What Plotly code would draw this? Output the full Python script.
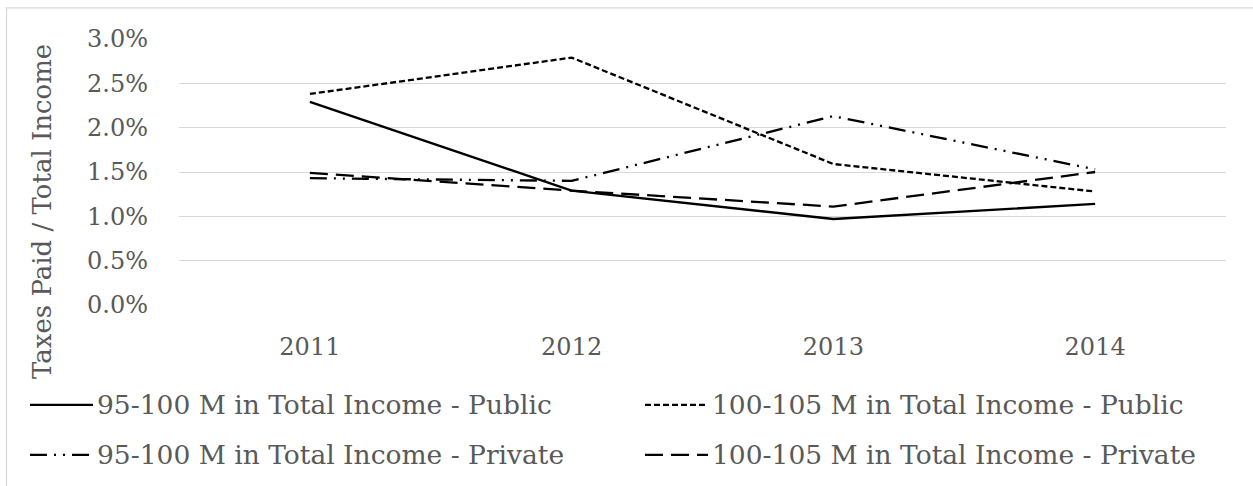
import plotly.graph_objects as go

# Chart data
years = ["2011", "2012", "2013", "2014"]
pub_95_100 = [2.29, 1.29, 0.97, 1.14]
pub_100_105 = [2.38, 2.79, 1.59, 1.28]
priv_95_100 = [1.43, 1.40, 2.13, 1.53]
priv_100_105 = [1.49, 1.29, 1.11, 1.50]
y_ticks = [0.0, 0.5, 1.0, 1.5, 2.0, 2.5, 3.0]
y_tick_text = ["0.0%", "0.5%", "1.0%", "1.5%", "2.0%", "2.5%", "3.0%"]
series_names = [
    "95-100 M in Total Income - Public",
    "100-105 M in Total Income - Public",
    "95-100 M in Total Income - Private",
    "100-105 M in Total Income - Private",
]
series_values = [pub_95_100, pub_100_105, priv_95_100, priv_100_105]
dashes = ["solid", "6px,3px", "17px,7px,2px,7px,2px,7px", "18px,8px"]

W, H = 1253, 486
L, R, T, B = 179, 27, 38.7, 181  # plot area: x 179..1226, y 38.7..305
PW = W - L - R
PH = H - T - B

FONT = "DejaVu Serif"
TXT = "#595959"
GRID = "#d9d9d9"


def px(x):
    return (x - L) / PW


def py(y):
    return (H - B - y) / PH


fig = go.Figure()
for name, vals, dash in zip(series_names, series_values, dashes):
    fig.add_trace(go.Scatter(
        x=years, y=vals, mode="lines", name=name,
        line=dict(color="black", width=2.3, dash=dash),
        showlegend=False,
    ))

shapes = [
    # outer chart border
    dict(type="rect", xref="paper", yref="paper",
         x0=px(6.5), x1=px(W + 20), y0=py(H + 20), y1=py(7.5),
         line=dict(color=GRID, width=1.3), fillcolor="rgba(0,0,0,0)", layer="below"),
]
annotations = []

# custom legend: two rows, two columns
legend_pos = [(30, 405), (645, 405), (30, 455), (645, 455)]
for (lx, ly), name, dash in zip(legend_pos, series_names, dashes):
    shapes.append(dict(type="line", xref="paper", yref="paper",
                       x0=px(lx), x1=px(lx + 63), y0=py(ly), y1=py(ly),
                       line=dict(color="black", width=2.3, dash=dash)))
    annotations.append(dict(xref="paper", yref="paper", x=px(lx + 65), y=py(ly),
                            text=name, showarrow=False, xanchor="left", yanchor="middle",
                            font=dict(family=FONT, size=26.5, color=TXT)))

# rotated y-axis title
annotations.append(dict(xref="paper", yref="paper", x=px(42), y=py(212),
                        text="Taxes Paid / Total Income", textangle=-90, showarrow=False,
                        xanchor="center", yanchor="middle",
                        font=dict(family=FONT, size=26, color=TXT)))

fig.update_layout(
    width=W, height=H,
    margin=dict(l=L, r=R, t=T, b=B, pad=0),
    paper_bgcolor="white", plot_bgcolor="white",
    font=dict(family=FONT, color=TXT),
    shapes=shapes, annotations=annotations,
    xaxis=dict(type="category", showgrid=False, zeroline=False, showline=False,
               ticks="", tickfont=dict(family=FONT, size=24, color=TXT),
               ticklabelstandoff=25, range=[-0.5, 3.5]),
    yaxis=dict(range=[0, 3.0], tickvals=y_ticks, ticktext=y_tick_text,
               showgrid=True, gridcolor=GRID, gridwidth=1.3, zeroline=False,
               showline=False, ticks="", tickfont=dict(family=FONT, size=24, color=TXT),
               ticklabelstandoff=30),
    showlegend=False,
)

fig.write_html("out.html")
